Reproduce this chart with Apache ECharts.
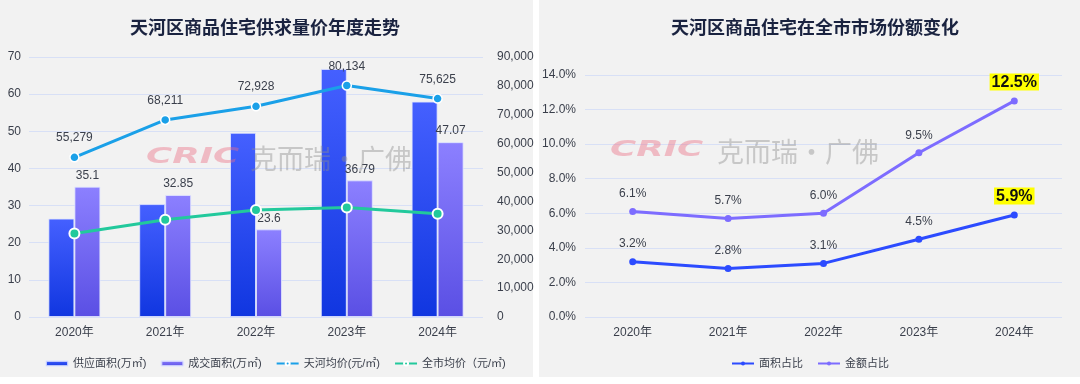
<!DOCTYPE html>
<html>
<head>
<meta charset="utf-8">
<script src="https://cdn.jsdelivr.net/npm/echarts@6/dist/echarts.min.js"></script>
<style>
html,body{margin:0;padding:0;background:#f2f2f2;}
#c{width:1080px;height:384px;}
</style>
</head>
<body>
<div id="c"></div>
<script>
const years = ['2020年','2021年','2022年','2023年','2024年'];
const supplyArea = [26.5, 30.4, 49.6, 66.8, 58.0];
const dealArea = [35.1, 32.85, 23.6, 36.79, 47.07];
const tianhePrice = [55279, 68211, 72928, 80134, 75625];
const cityPrice = [28900, 33700, 37000, 37900, 35700];
const areaShare = [3.2, 2.8, 3.1, 4.5, 5.9];
const amountShare = [6.1, 5.7, 6.0, 9.5, 12.5];

const FONT = "'Liberation Sans','Noto Sans CJK SC',sans-serif";
const GRID_LINE = '#d8e0f6';
const TXT = '#3a3f4b';

function grad(top, bottom){
  return new echarts.graphic.LinearGradient(0,0,0,1,[{offset:0,color:top},{offset:1,color:bottom}]);
}
function commas(v){ return Number(v).toLocaleString('en-US'); }

const chart = echarts.init(document.getElementById('c'));
const lastIdx = years.length - 1;

function shareData(arr){
  return arr.map((v,i)=> i===lastIdx ? {value:v, label:{fontSize:16, fontWeight:'bold', color:'#111', backgroundColor:'#ffff00', padding:[1,2,0,2], distance:7}} : v);
}

chart.setOption({
  backgroundColor:'#f2f2f2',
  textStyle:{fontFamily:FONT},
  animation:false,
  title:[
    {text:'天河区商品住宅供求量价年度走势', left:260, top:15, textAlign:'center',
     textStyle:{fontSize:18, fontWeight:'bold', color:'#1a2340', fontFamily:FONT}},
    {text:'天河区商品住宅在全市市场份额变化', left:810, top:15, textAlign:'center',
     textStyle:{fontSize:18, fontWeight:'bold', color:'#1a2340', fontFamily:FONT}}
  ],
  legend:[
    {data:['供应面积(万㎡)','成交面积(万㎡)','天河均价(元/㎡)','全市均价（元/㎡)'], left:40, top:353,
     itemWidth:22, itemHeight:5, itemGap:14, textStyle:{fontSize:11, color:TXT, fontFamily:FONT}},
    {data:['面积占比','金额占比'], left:726, top:353,
     itemWidth:22, itemHeight:5, itemGap:14, textStyle:{fontSize:11, color:TXT, fontFamily:FONT}}
  ],
  grid:[
    {left:29, right:597, top:57, bottom:67},
    {left:585, right:18, top:75, bottom:67}
  ],
  xAxis:[
    {type:'category', data:years, gridIndex:0, axisLine:{show:false}, axisTick:{show:false},
     axisLabel:{color:TXT, fontSize:12, margin:10}},
    {type:'category', data:years, gridIndex:1, axisLine:{show:false}, axisTick:{show:false},
     axisLabel:{color:TXT, fontSize:12, margin:10}}
  ],
  yAxis:[
    {type:'value', gridIndex:0, min:0, max:70, interval:10, axisLine:{show:false}, axisTick:{show:false},
     axisLabel:{color:TXT, fontSize:12, margin:8}, splitLine:{lineStyle:{color:GRID_LINE}}},
    {type:'value', gridIndex:0, position:'right', min:0, max:90000, interval:10000, axisLine:{show:false}, axisTick:{show:false},
     axisLabel:{color:TXT, fontSize:12, margin:14, formatter:commas}, splitLine:{show:false}},
    {type:'value', gridIndex:1, min:0, max:14, interval:2, axisLine:{show:false}, axisTick:{show:false},
     axisLabel:{color:TXT, fontSize:12, margin:9, formatter:v=>v.toFixed(1)+'%'}, splitLine:{lineStyle:{color:GRID_LINE}}}
  ],
  series:[
    {name:'供应面积(万㎡)', type:'bar', xAxisIndex:0, yAxisIndex:0, data:supplyArea, barWidth:26, barGap:'0%',
     itemStyle:{color:grad('#4560ff','#1036e0'), borderColor:'rgba(225,230,255,0.8)', borderWidth:1}},
    {name:'成交面积(万㎡)', type:'bar', xAxisIndex:0, yAxisIndex:0, data:dealArea, barWidth:26, barGap:'0%',
     itemStyle:{color:grad('#8c80ff','#5a4fe4'), borderColor:'rgba(225,230,255,0.8)', borderWidth:1},
     label:{show:true, position:'top', distance:5, color:TXT, fontSize:12}},
    {name:'天河均价(元/㎡)', type:'line', xAxisIndex:0, yAxisIndex:1, data:tianhePrice,
     symbol:'circle', symbolSize:9, lineStyle:{color:'#1aa0e8', width:3},
     itemStyle:{color:'#1aa0e8', borderColor:'#ffffff', borderWidth:1.5},
     label:{show:true, position:'top', distance:8, color:TXT, fontSize:12, formatter:p=>commas(p.value)}, z:5},
    {name:'全市均价（元/㎡)', type:'line', xAxisIndex:0, yAxisIndex:1, data:cityPrice,
     symbol:'circle', symbolSize:10, lineStyle:{color:'#22c99c', width:3},
     itemStyle:{color:'#22c99c', borderColor:'#ffffff', borderWidth:2}, z:5},
    {name:'面积占比', type:'line', xAxisIndex:1, yAxisIndex:2, data:shareData(areaShare),
     symbol:'circle', symbolSize:7, lineStyle:{color:'#2c4bff', width:3},
     itemStyle:{color:'#2c4bff'},
     label:{show:true, position:'top', distance:8, color:TXT, fontSize:12, formatter:p=>Number(p.value).toFixed(1)+'%'}},
    {name:'金额占比', type:'line', xAxisIndex:1, yAxisIndex:2, data:shareData(amountShare),
     symbol:'circle', symbolSize:7, lineStyle:{color:'#7d6cff', width:3},
     itemStyle:{color:'#7d6cff'},
     label:{show:true, position:'top', distance:8, color:TXT, fontSize:12, formatter:p=>Number(p.value).toFixed(1)+'%'}}
  ],
  graphic:[
    {type:'rect', left:533, top:0, shape:{width:6, height:384}, style:{fill:'#ffffff'}, z:-10, silent:true},
    {type:'rect', left:0, top:377, shape:{width:1080, height:7}, style:{fill:'#ffffff'}, z:-10, silent:true},
    {type:'text', x:146, y:147, scaleX:1.7, z:50, silent:true,
     style:{text:'CRIC', fontSize:21, fontWeight:900, fontStyle:'italic', fontFamily:'DejaVu Sans', fill:'rgba(236,110,132,0.42)'}},
    {type:'text', x:250, y:145, z:50, silent:true,
     style:{text:'克而瑞·广佛', fontSize:27, fontFamily:"'Noto Sans CJK SC'", fill:'rgba(140,140,140,0.42)'}},
    {type:'text', x:610, y:140, scaleX:1.7, z:50, silent:true,
     style:{text:'CRIC', fontSize:21, fontWeight:900, fontStyle:'italic', fontFamily:'DejaVu Sans', fill:'rgba(236,110,132,0.42)'}},
    {type:'text', x:717, y:138, z:50, silent:true,
     style:{text:'克而瑞·广佛', fontSize:27, fontFamily:"'Noto Sans CJK SC'", fill:'rgba(140,140,140,0.42)'}}
  ]
});
</script>
</body>
</html>
